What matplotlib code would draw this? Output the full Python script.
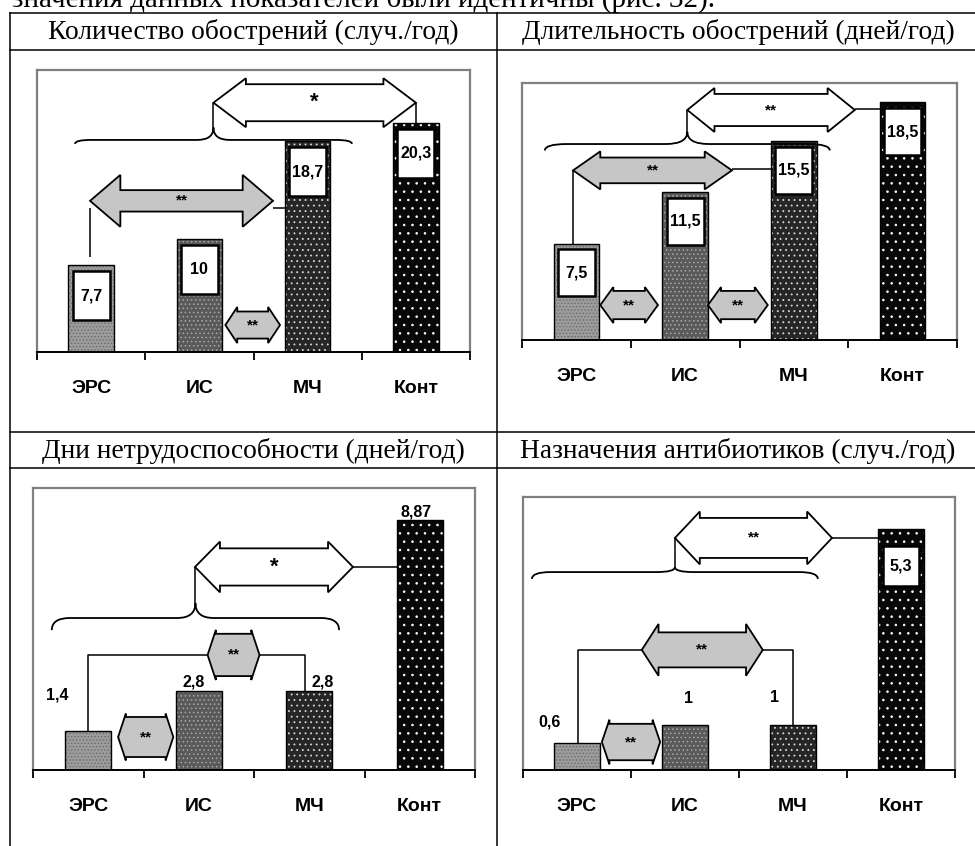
import matplotlib
matplotlib.use('Agg')
import matplotlib.pyplot as plt
from matplotlib.patches import Polygon, Rectangle, PathPatch
from matplotlib.path import Path
from matplotlib.lines import Line2D
from matplotlib import font_manager

# ---------------- data ----------------
categories = ['ЭРС', 'ИС', 'МЧ', 'Конт']
titles = ['Количество обострений (случ./год)',
          'Длительность обострений (дней/год)',
          'Дни нетрудоспособности (дней/год)',
          'Назначения антибиотиков (случ./год)']
exacerbation_count = [7.7, 10, 18.7, 20.3]
exacerbation_days = [7.5, 11.5, 15.5, 18.5]
disability_days = [1.4, 2.8, 2.8, 8.87]
antibiotic_courses = [0.6, 1, 1, 5.3]
y_limits = [25, 20, 10, 6]
header_text = 'значения данных показателей были идентичны (рис. 32).'

# ---------------- fonts ----------------
names = {f.name for f in font_manager.fontManager.ttflist}
NARROW = 'Liberation Sans Narrow' in names
SANS = 'Liberation Sans Narrow' if NARROW else 'Liberation Sans'
SERIF = 'Liberation Serif'
CAT_FS = 16 if NARROW else 14
VAL_FS = 14 if NARROW else 11.5
STAR_FS = 12.5 if NARROW else 11

plt.rcParams['hatch.linewidth'] = 0.6

W, H = 975, 846
fig = plt.figure(figsize=(W / 100, H / 100), dpi=100)


def fx(px):
    return px / W


def fy(py):
    return 1 - py / H


# ---------------- table grid ----------------
for y in (13, 50, 432, 468):
    fig.add_artist(Line2D([fx(10), fx(975)], [fy(y), fy(y)], color='black', lw=1.1))
for x in (10, 497):
    fig.add_artist(Line2D([fx(x), fx(x)], [fy(13), fy(846)], color='black', lw=1.1))

fig.text(fx(12), fy(7), header_text, fontsize=21, family=SERIF, va='baseline', ha='left')

title_pos = [(253, 32), (738, 32), (253, 451), (738, 451)]
for t, (x, y) in zip(titles, title_pos):
    fig.text(fx(x), fy(y), t, fontsize=19.8, family=SERIF, ha='center', va='center')

# ---------------- axes frames (pixel boxes: left, right, top, baseline) ----------------
frames = [(37, 470, 70, 352), (522, 957, 83, 340), (33, 475, 488, 770), (523, 955, 497, 770)]

bar_face = ['#9c9c9c', '#5a5a5a', '#262626', '#080808']
bar_hatch = ['.....', '....', '...', '..']
bar_hatch_col = ['#6a6a6a', '#a8a8a8', '#d8d8d8', '#ffffff']
BW = 0.42
xc = [0.5, 1.5, 2.5, 3.5]


def double_arrow(ax, x0, x1, yc, hh, sh, hl, face, text, fs):
    pts = [(x0, yc), (x0 + hl, yc + hh), (x0 + hl, yc + sh), (x1 - hl, yc + sh), (x1 - hl, yc + hh),
           (x1, yc), (x1 - hl, yc - hh), (x1 - hl, yc - sh), (x0 + hl, yc - sh), (x0 + hl, yc - hh)]
    ax.add_patch(Polygon(pts, closed=True, facecolor=face, edgecolor='black', lw=1.3, zorder=4))
    ax.text((x0 + x1) / 2, yc, text, ha='center', va='center', fontsize=fs, fontweight='bold',
            family=SANS, zorder=5)


def brace(ax, x0, x1, yb, ypeak, yend, q):
    xm = (x0 + x1) / 2
    verts = [(x0, yend), (x0, yb), (x0 + q, yb), (xm - q, yb), (xm, yb), (xm, ypeak),
             (xm, yb), (xm + q, yb), (x1 - q, yb), (x1, yb), (x1, yend)]
    codes = [Path.MOVETO, Path.CURVE3, Path.CURVE3, Path.LINETO, Path.CURVE3, Path.CURVE3,
             Path.CURVE3, Path.CURVE3, Path.LINETO, Path.CURVE3, Path.CURVE3]
    ax.add_patch(PathPatch(Path(verts, codes), fill=False, edgecolor='black', lw=1.3, zorder=4))


def line(ax, xs, ys):
    ax.plot(xs, ys, color='black', lw=1.1, zorder=3.5, solid_capstyle='butt')


def make_axes(i):
    l, r, t, b = frames[i]
    ax = fig.add_axes([fx(l), fy(b), (r - l) / W, (b - t) / H])
    ax.set_xlim(0, 4)
    ax.set_ylim(0, y_limits[i])
    for s in ('top', 'left', 'right'):
        ax.spines[s].set_color('#808080')
        ax.spines[s].set_linewidth(1.6)
    ax.spines['bottom'].set_color('black')
    ax.spines['bottom'].set_linewidth(1.4)
    ax.set_yticks([])
    ax.set_xticks([0, 1, 2, 3, 4])
    ax.set_xticklabels([])
    ax.tick_params(axis='x', which='major', direction='out', length=6, width=1.3)
    ax.set_xticks(xc, minor=True)
    ax.set_xticklabels(categories, minor=True, fontsize=CAT_FS, fontweight='bold', family=SANS)
    ax.tick_params(axis='x', which='minor', length=0, pad=20)
    ax.patch.set_alpha(0)
    return ax


def draw_bars(ax, vals):
    for k, v in enumerate(vals):
        ax.bar(xc[k], v, width=BW, color=bar_face[k], edgecolor=bar_hatch_col[k],
               hatch=bar_hatch[k], linewidth=0, zorder=2)
        ax.bar(xc[k], v, width=BW, fill=False, edgecolor='black', linewidth=1.0, zorder=2.1)


def fmt(v):
    return str(v).replace('.', ',')


def boxed_label(ax, k, v, off, bh, bw=0.34):
    top = v - off
    ax.add_patch(Rectangle((xc[k] - bw / 2, top - bh), bw, bh, facecolor='white',
                           edgecolor='black', lw=1.8, zorder=3))
    ax.text(xc[k], top - bh / 2, fmt(v), ha='center', va='center', fontsize=VAL_FS,
            fontweight='bold', family=SANS, zorder=5)


def top_label(ax, k, v, dx, dy):
    ax.text(xc[k] + dx, v + dy, fmt(v), ha='center', va='bottom', fontsize=VAL_FS,
            fontweight='bold', family=SANS, zorder=5)


GRAY = '#c6c6c6'

# ---------- panel 1 ----------
ax = make_axes(0)
vals = exacerbation_count
draw_bars(ax, vals)
for k, v in enumerate(vals):
    boxed_label(ax, k, v, 0.5, 4.4)
double_arrow(ax, 1.63, 3.5, 22.1, 2.17, 1.64, 0.30, 'white', '*', 16)
line(ax, [3.5, 3.5], [22.1, vals[3]])
brace(ax, 0.35, 2.91, 18.8, 19.9, 18.45, 0.15)
line(ax, [1.63, 1.63], [19.9, 22.1])
double_arrow(ax, 0.49, 2.18, 13.4, 2.3, 0.95, 0.28, GRAY, '**', STAR_FS)
line(ax, [0.49, 0.49], [12.8, vals[0] + 0.7])
line(ax, [2.18, xc[2] - BW / 2], [12.8, 12.8])
double_arrow(ax, 1.74, 2.245, 2.39, 1.6, 1.2, 0.11, GRAY, '**', STAR_FS)

# ---------- panel 2 ----------
ax = make_axes(1)
vals = exacerbation_days
draw_bars(ax, vals)
for k, v in enumerate(vals):
    boxed_label(ax, k, v, 0.45, 3.65)
double_arrow(ax, 1.52, 3.06, 17.9, 1.71, 1.25, 0.25, 'white', '**', STAR_FS)
line(ax, [3.06, xc[3] - BW / 2], [17.95, 17.95])
brace(ax, 0.21, 2.83, 15.25, 16.2, 14.75, 0.2)
line(ax, [1.52, 1.52], [16.2, 17.9])
double_arrow(ax, 0.47, 1.93, 13.2, 1.48, 1.0, 0.25, GRAY, '**', STAR_FS)
line(ax, [0.47, 0.47], [13.2, vals[0]])
line(ax, [1.93, xc[2] - BW / 2], [13.3, 13.3])
double_arrow(ax, 0.72, 1.25, 2.72, 1.4, 1.1, 0.12, GRAY, '**', STAR_FS)
double_arrow(ax, 1.71, 2.26, 2.72, 1.4, 1.1, 0.12, GRAY, '**', STAR_FS)

# ---------- panel 3 ----------
ax = make_axes(2)
vals = disability_days
draw_bars(ax, vals)
top_label(ax, 0, vals[0], -0.28, 1.0)
top_label(ax, 1, vals[1], -0.05, 0.05)
top_label(ax, 2, vals[2], 0.12, 0.05)
top_label(ax, 3, vals[3], -0.03, 0.0)
double_arrow(ax, 1.466, 2.896, 7.2, 0.9, 0.66, 0.226, 'white', '*', 16)
line(ax, [2.896, xc[3] - BW / 2], [7.2, 7.2])
brace(ax, 0.17, 2.77, 5.39, 5.92, 4.96, 0.165)
line(ax, [1.466, 1.466], [5.92, 7.2])
double_arrow(ax, 1.58, 2.05, 4.08, 0.89, 0.75, 0.075, GRAY, '**', STAR_FS)
line(ax, [1.58, 0.5, 0.5], [4.08, 4.08, vals[0]])
line(ax, [2.05, 2.46, 2.46], [4.08, 4.08, vals[2]])
double_arrow(ax, 0.77, 1.27, 1.17, 0.83, 0.71, 0.07, GRAY, '**', STAR_FS)

# ---------- panel 4 ----------
ax = make_axes(3)
vals = antibiotic_courses
draw_bars(ax, vals)
top_label(ax, 0, vals[0], -0.25, 0.3)
top_label(ax, 1, vals[1], 0.03, 0.4)
top_label(ax, 2, vals[2], -0.17, 0.42)
boxed_label(ax, 3, vals[3], 0.37, 0.88)
double_arrow(ax, 1.407, 2.861, 5.1, 0.58, 0.44, 0.23, 'white', '**', STAR_FS)
line(ax, [2.861, xc[3] - BW / 2], [5.1, 5.1])
brace(ax, 0.083, 2.73, 4.35, 4.46, 4.2, 0.17)
line(ax, [1.407, 1.407], [4.46, 5.1])
double_arrow(ax, 1.10, 2.22, 2.64, 0.57, 0.385, 0.155, GRAY, '**', STAR_FS)
line(ax, [1.10, 0.51, 0.51], [2.64, 2.64, vals[0]])
line(ax, [2.22, 2.5, 2.5], [2.64, 2.64, vals[2]])
double_arrow(ax, 0.73, 1.27, 0.615, 0.49, 0.4, 0.07, GRAY, '**', STAR_FS)

fig.savefig('out.png', dpi=100)
